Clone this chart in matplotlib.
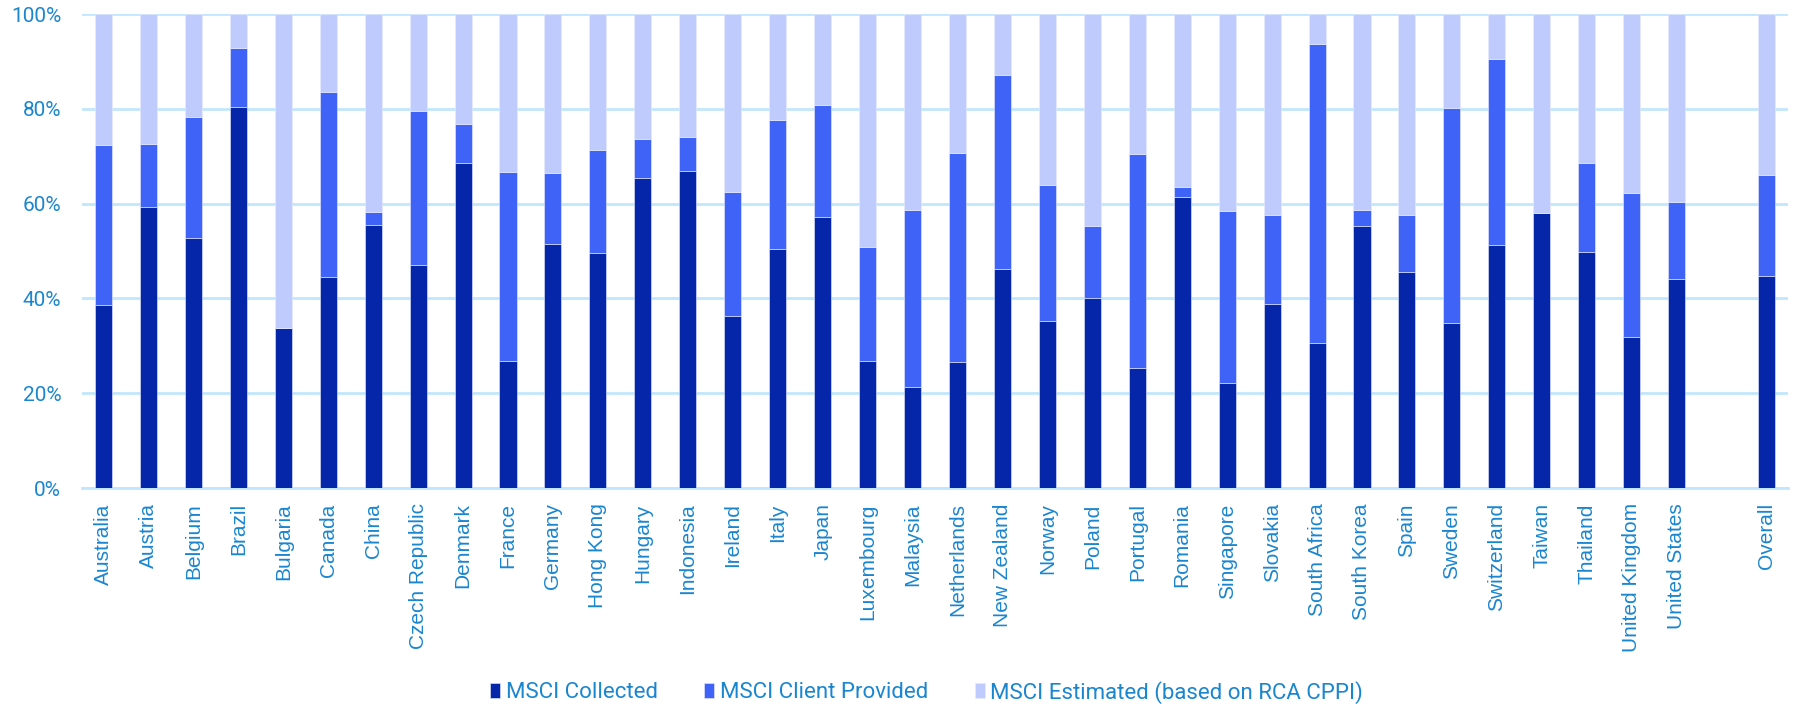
import numpy as np
import matplotlib.pyplot as plt

# data (% of total)
countries = ["Australia", "Austria", "Belgium", "Brazil", "Bulgaria", "Canada", "China",
             "Czech Republic", "Denmark", "France", "Germany", "Hong Kong", "Hungary",
             "Indonesia", "Ireland", "Italy", "Japan", "Luxembourg", "Malaysia",
             "Netherlands", "New Zealand", "Norway", "Poland", "Portugal", "Romania",
             "Singapore", "Slovakia", "South Africa", "South Korea", "Spain", "Sweden",
             "Switzerland", "Taiwan", "Thailand", "United Kingdom", "United States",
             "", "Overall"]

collected = [38.6, 59.3, 52.7, 80.3, 33.8, 44.5, 55.5, 47.1, 68.5, 26.8, 51.5, 49.6, 65.3,
             66.8, 36.2, 50.4, 57.1, 26.8, 21.3, 26.5, 46.1, 35.2, 40.1, 25.4, 61.5,
             22.1, 38.8, 30.5, 55.2, 45.6, 34.8, 51.2, 58.1, 49.7, 31.8, 44.1,
             0, 44.7]

# cumulative top of the "client provided" segment
client_top = [72.4, 72.5, 78.2, 92.8, 33.8, 83.6, 58.3, 79.6, 76.8, 66.6, 66.4, 71.3, 73.6,
              74.0, 62.4, 77.7, 80.8, 50.9, 58.7, 70.7, 87.1, 64.0, 55.3, 70.4, 63.4,
              58.5, 57.7, 93.6, 58.6, 57.7, 80.2, 90.6, 58.1, 68.6, 62.3, 60.4,
              0, 66.1]

series_names = ["MSCI Collected", "MSCI Client Provided", "MSCI Estimated (based on RCA CPPI)"]
colors = ["#0526a8", "#3f63f6", "#bfcbfc"]

collected = np.array(collected)
client = np.array(client_top) - collected
estimated = np.where(collected > 0, 100 - np.array(client_top), 0)

txt_col = "#1a86d0"
grid_col = "#c2e6fb"

fig = plt.figure(figsize=(17.96, 7.04), dpi=100)
ax = fig.add_axes([0.0457, 0.3068, 0.9498, 0.6733])

x = np.arange(len(countries))
w = 0.38
ax.bar(x, collected, w, color=colors[0], label=series_names[0], zorder=3,
       edgecolor="#e8ecff", linewidth=0.4)
ax.bar(x, client, w, bottom=collected, color=colors[1], label=series_names[1], zorder=3,
       edgecolor="#e8ecff", linewidth=0.4)
ax.bar(x, estimated, w, bottom=collected + client, color=colors[2], label=series_names[2],
       zorder=3, edgecolor="#e8ecff", linewidth=0.4)

ax.set_xlim(-0.476, len(countries) - 1 + 0.476)
ax.set_ylim(0, 100)
ax.set_yticks(np.arange(0, 101, 20))
ax.set_yticklabels([f"{v}%" for v in range(0, 101, 20)], family="Roboto", fontsize=15,
                   color=txt_col)
ax.set_xticks(x)
ax.set_xticklabels(countries, rotation=90, family="Liberation Sans", fontsize=15,
                   color=txt_col, va="top")
ax.tick_params(axis="both", length=0)
ax.tick_params(axis="y", pad=15)
ax.tick_params(axis="x", pad=11)

ax.grid(axis="y", color=grid_col, linewidth=2, zorder=0)
for s in ["top", "right", "left"]:
    ax.spines[s].set_visible(False)
ax.spines["bottom"].set_color(grid_col)
ax.spines["bottom"].set_linewidth(2)

leg = fig.legend(loc="center", bbox_to_anchor=(0.516, 0.017), ncol=3, frameon=False,
                 prop={"family": "Roboto", "size": 16}, handlelength=0.45,
                 handleheight=0.7, handletextpad=0.25, columnspacing=2.1)
for t in leg.get_texts():
    t.set_color(txt_col)

fig.savefig("out.png", dpi=100)
